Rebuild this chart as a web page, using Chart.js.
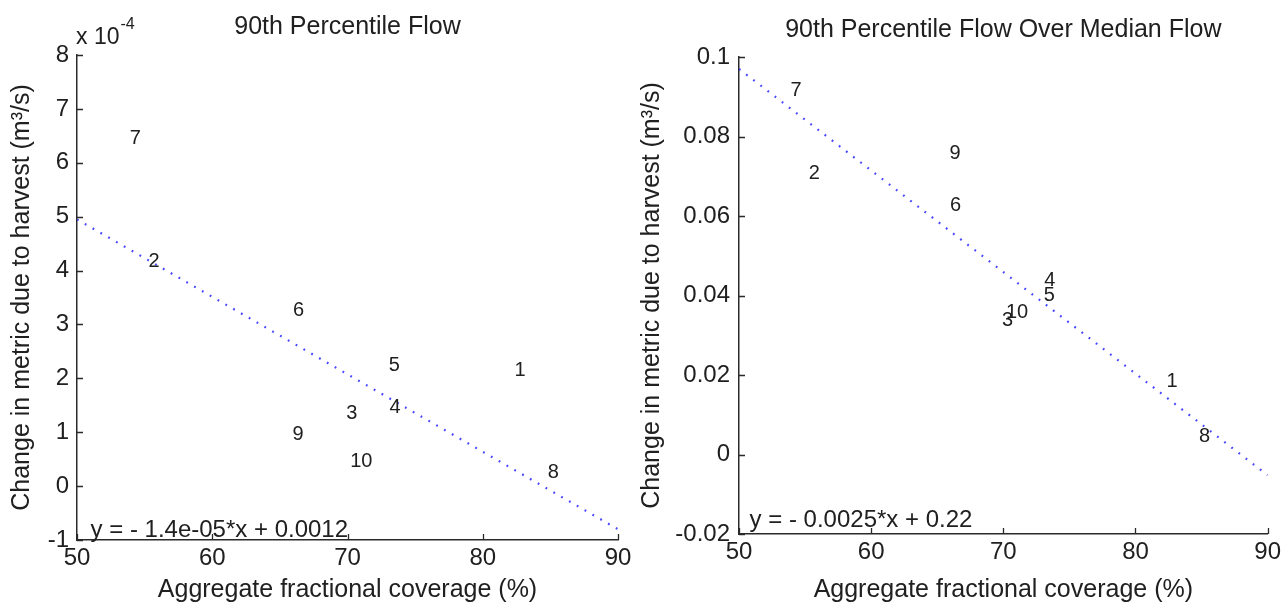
<!DOCTYPE html>
<html><head><meta charset="utf-8">
<script src="https://cdn.jsdelivr.net/npm/chart.js@4/dist/chart.umd.min.js"></script>
<style>
html,body{margin:0;padding:0;background:#fff;}
#wrap{position:relative;width:1287px;height:605px;overflow:hidden;background:#fff;}
#c1{position:absolute;left:0;top:0;}
#c2{position:absolute;left:640px;top:0;}
</style></head><body>
<div id="wrap"><canvas id="c1" width="640" height="605"></canvas><canvas id="c2" width="647" height="605"></canvas></div>
<script>
// ---- data ----
const siteLabels = ['1','2','3','4','5','6','7','8','9','10'];
const coverage = [82.35, 55.28, 69.9, 73.1, 73.05, 65.97, 53.9, 84.8, 65.93, 70.2];
// left panel: change in 90th percentile flow, in units of 1e-4 m3/s
const p90Change = [2.15, 4.16, 1.35, 1.45, 2.23, 3.25, 6.46, 0.25, 0.96, 0.45];
// right panel: change in 90th percentile / median flow
const p90OverMedianChange = [0.0183, 0.0707, 0.0338, 0.0437, 0.0401, 0.0626, 0.0917, 0.0045, 0.0758, 0.0358];
// fitted trend lines (end points)
const fitX = [50, 90];
const p90Fit = [4.95, -0.8];
const p90OverMedianFit = [0.0970, -0.0052];
// tick labels
const xTicks = [50, 60, 70, 80, 90];
const leftYTicks = [-1, 0, 1, 2, 3, 4, 5, 6, 7, 8];
const rightYTicks = [-0.02, 0, 0.02, 0.04, 0.06, 0.08, 0.1];
// texts
const leftTitle = '90th Percentile Flow';
const rightTitle = '90th Percentile Flow Over Median Flow';
const xLabel = 'Aggregate fractional coverage (%)';
const yLabel = 'Change in metric due to harvest (m\u00B3/s)';
const leftEq = 'y = - 1.4e-05*x + 0.0012';
const rightEq = 'y = - 0.0025*x + 0.22';

// ---- styling ----
const FAM = '"Liberation Sans", Arial, Helvetica, sans-serif';
const TXT = '#202020';
const AX = '#2a2a2a';

const inwardTicks = {
  id: 'inwardTicks',
  afterDraw(chart) {
    const {ctx, chartArea: a, scales: {x, y}} = chart;
    ctx.save();
    ctx.strokeStyle = AX; ctx.lineWidth = 1.3;
    ctx.beginPath();
    x.ticks.forEach(t => { const px = Math.round(x.getPixelForValue(t.value)) + 0.5; ctx.moveTo(px, a.bottom); ctx.lineTo(px, a.bottom - 6); });
    y.ticks.forEach(t => { const py = Math.round(y.getPixelForValue(t.value)) + 0.5; ctx.moveTo(a.left, py); ctx.lineTo(a.left + 6, py); });
    ctx.stroke();
    ctx.restore();
  }
};

const pointLabels = {
  id: 'pointLabels',
  afterDatasetsDraw(chart) {
    const {ctx} = chart;
    const meta = chart.getDatasetMeta(1);
    ctx.save();
    ctx.fillStyle = TXT;
    ctx.font = '20px ' + FAM;
    ctx.textAlign = 'left'; ctx.textBaseline = 'middle';
    meta.data.forEach((el, i) => { ctx.fillText(siteLabels[i], el.x, el.y); });
    const o = chart.options.plugins.extraText || {};
    const {x, y} = chart.scales;
    ctx.font = '24px ' + FAM;
    if (o.eq) ctx.fillText(o.eq.text, x.getPixelForValue(o.eq.x), y.getPixelForValue(o.eq.y));
    if (o.exponent) {
      const a = chart.chartArea;
      ctx.font = '23px ' + FAM;
      ctx.fillText('x 10', a.left - 1, a.top - 17);
      const w = ctx.measureText('x 10').width;
      ctx.font = '16px ' + FAM;
      ctx.fillText('-4', a.left - 1 + w + 1, a.top - 30);
    }
    ctx.restore();
  }
};

function makeChart(id, values, fit, yTicks, opts) {
  const pts = coverage.map((c, i) => ({x: c, y: values[i]}));
  const line = fitX.map((c, i) => ({x: c, y: fit[i]}));
  return new Chart(document.getElementById(id), {
    type: 'scatter',
    data: {
      datasets: [
        {type: 'line', data: line, borderColor: 'rgba(60,60,255,0.95)', borderWidth: 2.2, borderDash: [1.8, 7.2], pointRadius: 0, fill: false, tension: 0},
        {data: pts, pointRadius: 0, showLine: false}
      ]
    },
    options: {
      responsive: false, animation: false, events: [],
      layout: {padding: {left: 0, top: 0, right: opts.padRight, bottom: 0}},
      plugins: {
        legend: {display: false}, tooltip: {enabled: false},
        title: {display: true, text: opts.title, fullSize: false, color: TXT,
          font: {family: FAM, size: 25, weight: 'normal', lineHeight: 1},
          padding: {top: opts.titleTop, bottom: opts.top - opts.titleTop - 25}},
        extraText: {eq: opts.eq, exponent: opts.exponent}
      },
      scales: {
        x: {
          type: 'linear', min: 50, max: 90,
          afterBuildTicks: s => { s.ticks = xTicks.map(v => ({value: v})); },
          afterFit: s => { s.height = opts.bottomH; },
          ticks: {color: TXT, font: {family: FAM, size: 24, lineHeight: 1}, padding: 6, maxRotation: 0, autoSkip: false, callback: v => String(v)},
          grid: {display: false, drawTicks: false},
          border: {display: true, color: AX, width: 1.5},
          title: {display: true, text: xLabel, color: TXT, font: {family: FAM, size: 25, lineHeight: 1}, padding: {top: 0, bottom: 2.5}}
        },
        y: {
          type: 'linear', min: yTicks[0], max: yTicks[yTicks.length - 1],
          afterBuildTicks: s => { s.ticks = yTicks.map(v => ({value: v})); },
          afterFit: s => { s.width = opts.leftW; },
          ticks: {color: TXT, font: {family: FAM, size: 24, lineHeight: 1}, padding: opts.yPad, autoSkip: false, callback: v => String(v)},
          grid: {display: false, drawTicks: false},
          border: {display: true, color: AX, width: 1.5},
          title: {display: true, text: yLabel, color: TXT, font: {family: FAM, size: 25, lineHeight: 1}, padding: {top: opts.yTitlePad, bottom: 0}}
        }
      }
    },
    plugins: [inwardTicks, pointLabels]
  });
}

makeChart('c1', p90Change, p90Fit, leftYTicks, {
  title: leftTitle, titleTop: 15, top: 55, bottomH: 65, leftW: 77, padRight: 22, yPad: 8, yTitlePad: 10,
  eq: {text: leftEq, x: 51, y: -0.82}, exponent: true
});
makeChart('c2', p90OverMedianChange, p90OverMedianFit, rightYTicks, {
  title: rightTitle, titleTop: 18, top: 57, bottomH: 71, leftW: 99, padRight: 15, yPad: 9, yTitlePad: 0,
  eq: {text: rightEq, x: 50.8, y: -0.0165}, exponent: false
});
</script>
</body></html>
